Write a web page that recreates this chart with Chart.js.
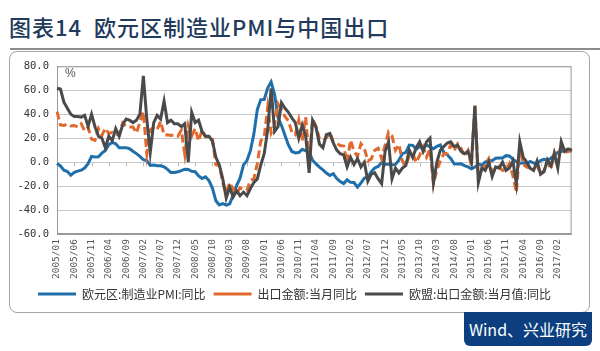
<!DOCTYPE html>
<html>
<head>
<meta charset="utf-8">
<script src="https://cdn.jsdelivr.net/npm/chart.js@4.4.1/dist/chart.umd.min.js"></script>
<style>
  body { margin: 0; width: 600px; height: 351px; background: #fff; position: relative; overflow: hidden; font-family: "Noto Sans CJK SC", sans-serif; }
  #title { position: absolute; left: 9px; top: 10px; font-size: 22px; letter-spacing: 1px; color: #223a5c; font-weight: 500; white-space: pre; }
  #rule { position: absolute; left: 10px; right: 0; top: 48px; height: 1.5px; background: #8c8c8c; }
  #box { position: absolute; left: 9px; top: 51px; width: 579px; height: 260px; border: 1px solid #a6a6a6; border-radius: 8px; }
  #chartWrap { position: absolute; left: 10px; top: 52px; width: 578px; height: 258px; }
  #pct { position: absolute; left: 65px; top: 66px; font-size: 12px; color: #555; font-family: "Liberation Sans", sans-serif; }
  #src { position: absolute; left: 464px; top: 312px; width: 128px; height: 34px; background: #0d3f80; border-radius: 0 0 6px 6px; color: #fff; font-size: 16px; line-height: 34px; text-align: center; }
</style>
</head>
<body>
<div id="title">图表14  欧元区制造业PMI与中国出口</div>
<div id="rule"></div>
<div id="box"></div>
<div id="chartWrap"><canvas id="chart"></canvas></div>
<div id="pct">%</div>
<div id="src">Wind、兴业研究</div>
<script>
// months 2005/01 .. 2017/06
const months = [];
for (let yr = 2005; yr <= 2017; yr++) {
    for (let m = 1; m <= 12; m++) {
        if (yr === 2017 && m > 6) break;
        months.push(yr + "/" + (m < 10 ? "0" + m : m));
    }
}

const tickLabels = ["2005/01", "2005/06", "2005/11", "2006/04", "2006/09", "2007/02", "2007/07", "2007/12",
    "2008/05", "2008/10", "2009/03", "2009/08", "2010/01", "2010/06", "2010/11", "2011/04", "2011/09",
    "2012/02", "2012/07", "2012/12", "2013/05", "2013/10", "2014/03", "2014/08", "2015/01", "2015/06",
    "2015/11", "2016/04", "2016/09", "2017/02"];

const seriesNames = ["欧元区:制造业PMI:同比", "出口金额:当月同比", "欧盟:出口金额:当月值:同比"];

// 欧元区:制造业PMI:同比
const pmiYoy = [
    -1.1, -3.2, -6.7, -7.9, -11.0, -8.6, -7.5, -6.7, -4.9, -1.3, 4.8, 4.3,
    4.4, 7.5, 9.8, 14.6, 16.5, 15.3, 12.1, 12.1, 12.1, 11.2, 9.1, 7.1,
    4.8, 2.0, 1.3, -2.7, -2.5, -3.0, -3.0, -3.9, -6.0, -8.7, -8.7, -8.0,
    -7.1, -5.9, -6.1, -7.7, -8.0, -11.5, -13.7, -12.3, -15.4, -21.7, -32.3, -35.8,
    -34.7, -35.9, -34.8, -27.4, -19.6, -13.4, -2.3, 1.3, 9.6, 23.4, 43.8, 52.2,
    52.3, 61.8, 67.0, 56.5, 37.1, 30.5, 22.5, 14.3, 8.9, 7.7, 8.0, 10.7,
    9.4, 8.9, 1.6, -1.5, -4.2, -6.5, -9.1, -11.1, -9.7, -13.7, -16.1, -17.9,
    -14.8, -16.9, -17.0, -20.9, -17.4, -13.3, -12.7, -8.0, -4.9, -3.6, -0.4, -1.7,
    -1.8, -2.2, -1.9, 1.7, 7.1, 8.2, 14.3, 14.0, 10.8, 13.0, 11.7, 14.3,
    12.7, 11.1, 13.2, 14.3, 8.1, 6.1, 3.0, -1.4, -1.6, -1.4, -2.9, -4.0,
    -5.6, -4.1, -1.5, -2.6, 0.0, 1.4, 1.2, 3.2, 3.4, 3.4, 5.4, 5.1,
    2.5, 0.4, -1.1, -0.6, -1.3, 0.6, -0.8, -1.1, 1.2, 2.3, 1.7, 3.2,
    5.5, 8.2, 8.9, 9.7, 10.7, 8.7
];

// 出口金额:当月同比
const exportYoy = [
    42.2, 31.1, 30.6, 31.8, 30.2, 30.6, 29.4, 32.1, 26.1, 29.1, 19.2, 18.2,
    28.0, 22.4, 28.3, 23.9, 24.9, 23.3, 22.6, 32.8, 29.8, 29.4, 29.3, 24.3,
    33.3, 42.0, 6.9, 26.9, 28.9, 27.1, 34.1, 22.7, 22.8, 22.3, 22.9, 21.7,
    26.6, 6.5, 30.6, 21.8, 28.1, 17.6, 26.9, 21.1, 21.5, 19.2, -2.2, -2.8,
    -17.5, -25.7, -17.1, -22.6, -26.4, -21.4, -23.0, -23.4, -15.2, -13.8, -1.2, 17.7,
    21.0, 45.7, 24.3, 30.5, 48.5, 43.9, 38.1, 34.4, 25.1, 22.9, 34.9, 17.9,
    37.7, 2.4, 35.8, 29.9, 19.4, 17.9, 20.4, 24.5, 17.1, 15.9, 13.8, 13.4,
    -0.5, 18.4, 8.9, 4.9, 15.3, 11.3, 1.0, 2.7, 9.9, 11.6, 2.9, 14.1,
    25.0, 21.8, 10.0, 14.7, 1.0, -3.1, 5.1, 7.2, -0.3, 5.6, 12.7, 4.3,
    10.6, -18.1, -6.6, 0.9, 7.0, 7.2, 14.5, 9.4, 15.3, 11.6, 4.7, 9.7,
    -3.3, 48.3, -15.0, -6.4, -2.5, 2.8, -8.3, -5.5, -3.7, -6.9, -6.8, -1.4,
    -11.2, -25.4, 11.5, -1.8, -4.1, -4.8, -4.4, -2.8, -10.0, -7.3, 0.1, -6.1,
    7.9, -1.3, 16.4, 8.0, 8.7, 11.3
];

// 欧盟:出口金额:当月值:同比
const euExportYoy = [
    61.6, 61.0, 50.0, 45.0, 40.0, 38.0, 38.0, 37.6, 39.0, 30.0, 40.0, 29.6,
    21.6, 20.0, 12.0, 21.6, 18.0, 28.0, 21.6, 31.0, 36.0, 35.0, 33.0, 35.0,
    40.0, 72.0, 36.0, 8.0, 33.0, 39.0, 36.0, 51.0, 33.0, 35.0, 32.0, 32.0,
    29.6, 32.0, 0.0, 41.6, 33.0, 35.0, 25.6, 21.6, 21.6, 17.6, 4.0, -2.4,
    -14.0, -30.0, -21.0, -29.0, -24.0, -28.0, -25.0, -28.0, -22.0, -17.0, -14.0, -2.4,
    7.0, 27.0, 61.6, 25.6, 29.6, 49.6, 45.0, 41.6, 37.0, 33.0, 20.0, 31.0,
    22.0, -9.0, 35.0, 29.0, 15.0, 12.0, 23.0, 24.0, 16.0, 10.0, 7.0, 6.0,
    -4.0, 4.0, -2.0, 3.0, -4.0, 0.0, -16.0, -10.0, -9.0, -14.0, -18.0, 9.0,
    17.0, -14.0, -5.0, -9.0, -5.0, -3.0, 10.0, 4.0, 12.0, 17.0, 9.0, 17.0,
    20.0, -17.0, 0.0, 10.0, 13.0, 16.0, 17.0, 13.0, 14.0, 9.0, 7.0, 9.0,
    0.0, 47.0, -17.0, -5.0, -7.0, 0.0, -12.0, -4.0, -5.0, 0.0, -7.0, -5.0,
    1.0, -18.0, 17.0, 4.0, 0.0, -5.0, -7.0, 1.0, -10.0, -8.0, 2.0, -3.0,
    7.0, -5.0, 17.0, 9.0, 11.0, 10.0
];

const yTicks = [-60, -40, -20, 0, 20, 40, 60, 80];

Chart.defaults.font.family = '"Noto Sans CJK SC", sans-serif';

// plot frame + small tick marks on the zero line
const framePlugin = {
    id: "frame",
    beforeDatasetsDraw(chart) {
        const ctx = chart.ctx;
        const a = chart.chartArea;
        const xs = chart.scales.x;
        const ys = chart.scales.y;
        ctx.save();
        ctx.strokeStyle = "#9a9a9a";
        ctx.lineWidth = 1;
        ctx.strokeRect(a.left + 0.5, a.top + 0.5, a.width - 1, a.height - 1);
        const y0 = Math.round(ys.getPixelForValue(0)) + 0.5;
        ctx.strokeStyle = "#bdbdbd";
        months.forEach((m, i) => {
            if (tickLabels.indexOf(m) < 0) return;
            const px = Math.round(xs.getPixelForValue(i)) + 0.5;
            ctx.beginPath();
            ctx.moveTo(px, y0);
            ctx.lineTo(px, y0 + 4);
            ctx.stroke();
        });
        ctx.restore();
    }
};

new Chart(document.getElementById("chart"), {
    type: "line",
    data: {
        labels: months,
        datasets: [{
            label: seriesNames[0],
            data: pmiYoy,
            borderColor: "#1f6fab",
            backgroundColor: "#1f6fab",
            borderWidth: 3,
            pointRadius: 0,
            order: 3
        }, {
            label: seriesNames[1],
            data: exportYoy,
            borderColor: "#e2682c",
            backgroundColor: "#e2682c",
            borderWidth: 3,
            borderDash: [8, 4],
            pointRadius: 0,
            order: 2
        }, {
            label: seriesNames[2],
            data: euExportYoy,
            borderColor: "#4a4a4a",
            backgroundColor: "#4a4a4a",
            borderWidth: 3,
            pointRadius: 0,
            order: 1
        }]
    },
    options: {
        responsive: true,
        maintainAspectRatio: false,
        animation: false,
        layout: {
            padding: { top: 10, right: 9, left: 0, bottom: 0 }
        },
        plugins: {
            tooltip: { enabled: false },
            legend: {
                position: "bottom",
                labels: {
                    usePointStyle: true,
                    pointStyle: "line",
                    pointStyleWidth: 38,
                    padding: 8,
                    color: "#333",
                    font: { size: 12 },
                    sort: (a, b) => a.datasetIndex - b.datasetIndex
                }
            }
        },
        scales: {
            x: {
                grid: { display: false, drawTicks: false },
                border: { color: "#9a9a9a" },
                ticks: {
                    autoSkip: false,
                    maxRotation: 90,
                    minRotation: 90,
                    padding: 5,
                    color: "#555",
                    font: { family: "DejaVu Sans Mono", size: 9.5 },
                    callback: (v, i) => tickLabels.indexOf(months[i]) >= 0 ? months[i] : ""
                },
                afterFit: (s) => { s.height = 46; }
            },
            y: {
                min: -60,
                max: 80,
                afterBuildTicks: (s) => { s.ticks = yTicks.map(v => ({ value: v })); },
                grid: { color: "#c8c8c8", drawTicks: false },
                border: { color: "#9a9a9a" },
                ticks: {
                    padding: 8,
                    color: "#333",
                    font: { family: "DejaVu Sans Mono", size: 10.5 },
                    callback: (v) => v.toFixed(1)
                },
                afterFit: (s) => { s.width = 47; }
            }
        }
    },
    plugins: [framePlugin]
});
</script>
</body>
</html>
